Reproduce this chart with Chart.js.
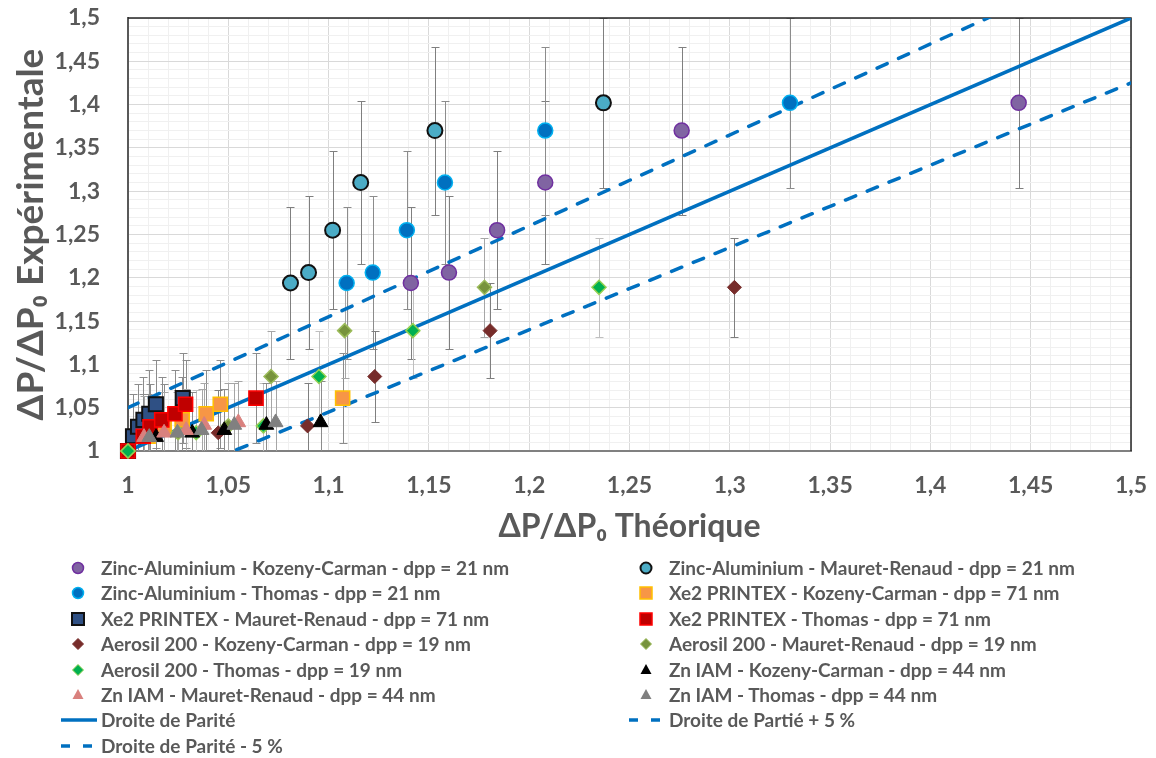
<!DOCTYPE html>
<html>
<head>
<meta charset="utf-8">
<script src="https://cdn.jsdelivr.net/npm/chart.js@4.4.1/dist/chart.umd.min.js"></script>
<style>
  body { margin: 0; background: #fff; }
  #wrap { position: relative; width: 1156px; height: 758px; }
  #legend { position: absolute; left: 0; top: 0; width: 1156px; height: 758px; pointer-events: none; }
  .item { position: absolute; font-family: Lato, sans-serif; font-weight: bold; font-size: 19px; color: #595959; white-space: nowrap; line-height: 20px; }
  .item svg { position: absolute; }
</style>
</head>
<body>
<div id="wrap">
  <canvas id="chart" width="1156" height="758"></canvas>
  <div id="legend"></div>
</div>
<script>
// Zinc-Aluminium - dpp = 21 nm
const znAlExp = [1.194, 1.206, 1.255, 1.31, 1.37, 1.402];
const znAlErr = [0.088, 0.088, 0.091, 0.094, 0.097, 0.098];
const znAlKozeny = [1.141, 1.160, 1.184, 1.208, 1.276, 1.444];
const znAlMauret = [1.081, 1.090, 1.102, 1.116, 1.153, 1.237];
const znAlThomas = [1.109, 1.122, 1.139, 1.158, 1.208, 1.330];

// Xe2 PRINTEX - dpp = 71 nm
const xe2Exp = [1, 1.017, 1.028, 1.036, 1.043, 1.054, 1.061];
const xe2Err = [0, 0.049, 0.049, 0.05, 0.05, 0.051, 0.052];
const xe2Kozeny = [1, 1.010, 1.018, 1.027, 1.039, 1.046, 1.107];
const xe2Mauret = [1, 1.0025, 1.005, 1.0077, 1.0106, 1.0139, 1.0273];
const xe2Thomas = [1, 1.0076, 1.011, 1.0168, 1.0234, 1.0287, 1.0638];

// Aerosil 200 - dpp = 19 nm
const aerExp = [1, 1.021, 1.029, 1.086, 1.139, 1.189];
const aerErr = [0, 0.049, 0.05, 0.052, 0.055, 0.057];
const aerKozeny = [1, 1.045, 1.0895, 1.123, 1.1805, 1.3023];
const aerMauret = [1, 1.025, 1.050, 1.0713, 1.108, 1.1777];
const aerThomas = [1, 1.034, 1.0675, 1.0952, 1.142, 1.2348];

// Zn IAM - dpp = 44 nm
const znExp = [1.016, 1.021, 1.024, 1.030, 1.033];
const znErr = [0.047, 0.047, 0.048, 0.048, 0.048];
const znKozeny = [1.014, 1.032, 1.048, 1.069, 1.096];
const znMauret = [1.008, 1.018, 1.029, 1.038, 1.055];
const znThomas = [1.0106, 1.0246, 1.0367, 1.053, 1.0736];

// parity lines
const parityX = [1, 1.5];
const parityY = [1, 1.5];
const plus5Y = [1.05, 1.575];
const minus5Y = [0.95, 1.425];

const pts = (xs, ys) => xs.map((v, i) => ({ x: v, y: ys[i] }));

// series in legend order (row by row, two columns)
const series = [
  { label: 'Zinc-Aluminium - Kozeny-Carman - dpp = 21 nm', xs: znAlKozeny, ys: znAlExp, err: znAlErr, shape: 'circle', fill: '#8064A2', stroke: '#7030A0', r: 7.5, bw: 1.5, errColor: '#7f7f7f' },
  { label: 'Zinc-Aluminium - Mauret-Renaud - dpp = 21 nm', xs: znAlMauret, ys: znAlExp, err: znAlErr, shape: 'circle', fill: '#4BACC6', stroke: '#111111', r: 7.5, bw: 2, errColor: '#7f7f7f' },
  { label: 'Zinc-Aluminium - Thomas - dpp = 21 nm', xs: znAlThomas, ys: znAlExp, err: znAlErr, shape: 'circle', fill: '#0070C0', stroke: '#00B0F0', r: 7.5, bw: 1.5, errColor: '#8c8c8c' },
  { label: 'Xe2 PRINTEX - Kozeny-Carman - dpp = 71 nm', xs: xe2Kozeny, ys: xe2Exp, err: xe2Err, shape: 'rect', fill: '#F79646', stroke: '#FFC000', r: 10, bw: 1.5, errColor: '#8c8c8c' },
  { label: 'Xe2 PRINTEX - Mauret-Renaud - dpp = 71 nm', xs: xe2Mauret, ys: xe2Exp, err: xe2Err, shape: 'rect', fill: '#2F5084', stroke: '#111111', r: 10, bw: 2, errColor: '#8c8c8c' },
  { label: 'Xe2 PRINTEX - Thomas - dpp = 71 nm', xs: xe2Thomas, ys: xe2Exp, err: xe2Err, shape: 'rect', fill: '#C00000', stroke: '#FF0000', r: 10, bw: 1.5, errColor: '#8c8c8c' },
  { label: 'Aerosil 200 - Kozeny-Carman - dpp = 19 nm', xs: aerKozeny, ys: aerExp, err: aerErr, shape: 'rectRot', fill: '#772C2A', stroke: '#772C2A', r: 7, bw: 1, errColor: '#7f7f7f' },
  { label: 'Aerosil 200 - Mauret-Renaud - dpp = 19 nm', xs: aerMauret, ys: aerExp, err: aerErr, shape: 'rectRot', fill: '#77933C', stroke: '#9BBB59', r: 7, bw: 1.5, errColor: '#a6a6a6' },
  { label: 'Aerosil 200 - Thomas - dpp = 19 nm', xs: aerThomas, ys: aerExp, err: aerErr, shape: 'rectRot', fill: '#00B050', stroke: '#92D050', r: 7, bw: 1.5, errColor: '#bfbfbf' },
  { label: 'Zn IAM - Kozeny-Carman - dpp = 44 nm', xs: znKozeny, ys: znExp, err: znErr, shape: 'triangle', fill: '#000000', stroke: '#000000', r: 8.5, bw: 1, errColor: '#8c8c8c' },
  { label: 'Zn IAM - Mauret-Renaud - dpp = 44 nm', xs: znMauret, ys: znExp, err: znErr, shape: 'triangle', fill: '#D9817E', stroke: '#D9817E', r: 8.5, bw: 1, errColor: '#a6a6a6' },
  { label: 'Zn IAM - Thomas - dpp = 44 nm', xs: znThomas, ys: znExp, err: znErr, shape: 'triangle', fill: '#808080', stroke: '#808080', r: 8.5, bw: 1, errColor: '#a6a6a6' }
];

const lines = [
  { label: 'Droite de Parité', ys: parityY, dash: [] },
  { label: 'Droite de Partié + 5 %', ys: plus5Y, dash: [11, 12.5] },
  { label: 'Droite de Parité - 5 %', ys: minus5Y, dash: [11, 12.5] }
];

const datasets = series.map((s, i) => ({
  type: 'scatter',
  label: s.label,
  data: pts(s.xs, s.ys),
  errors: s.err,
  errorColor: s.errColor,
  pointStyle: s.shape,
  pointRadius: s.r,
  pointHoverRadius: s.r,
  pointBackgroundColor: s.fill,
  pointBorderColor: s.stroke,
  pointBorderWidth: s.bw,
  showLine: false,
  clip: false,
  order: 50 - i
})).concat(lines.map((l) => ({
  type: 'line',
  label: l.label,
  data: pts(parityX, l.ys),
  borderColor: '#0070C0',
  borderWidth: 3.5,
  borderDash: l.dash,
  borderCapStyle: 'round',
  pointRadius: 0,
  fill: false,
  order: 100
})));

// error bars, drawn under the markers
const errorBarPlugin = {
  id: 'errorBars',
  beforeDatasetsDraw(chart) {
    const { ctx, chartArea, scales: { x, y } } = chart;
    ctx.save();
    ctx.beginPath();
    ctx.rect(chartArea.left, chartArea.top, chartArea.width, chartArea.height);
    ctx.clip();
    ctx.lineWidth = 1;
    chart.data.datasets.forEach((ds) => {
      if (!ds.errors) return;
      ctx.strokeStyle = ds.errorColor;
      ds.data.forEach((p, j) => {
        const e = ds.errors[j];
        if (!e) return;
        const px = Math.round(x.getPixelForValue(p.x)) + 0.5;
        const y1 = Math.round(y.getPixelForValue(p.y + e)) + 0.5;
        const y2 = Math.round(y.getPixelForValue(p.y - e)) + 0.5;
        ctx.beginPath();
        ctx.moveTo(px, y1); ctx.lineTo(px, y2);
        ctx.moveTo(px - 4, y1); ctx.lineTo(px + 4, y1);
        ctx.moveTo(px - 4, y2); ctx.lineTo(px + 4, y2);
        ctx.stroke();
      });
    });
    ctx.restore();
  }
};

// top and right frame of the plot area
const framePlugin = {
  id: 'frame',
  beforeDatasetsDraw(chart) {
    const { ctx, chartArea: a } = chart;
    ctx.save();
    ctx.strokeStyle = '#262626';
    ctx.lineWidth = 1.5;
    ctx.beginPath();
    ctx.moveTo(a.left, a.top);
    ctx.lineTo(a.right, a.top);
    ctx.lineTo(a.right, a.bottom);
    ctx.stroke();
    ctx.restore();
  }
};

const tickLabel = (v) => {
  const r = Math.round(v * 100);
  if (r % 5 !== 0) return '';
  return String(r / 100).replace('.', ',');
};
const gridColor = (c) => (c.tick && Math.round(c.tick.value * 100) % 5 === 0) ? '#d9d9d9' : '#f0f0f0';

Chart.defaults.font.family = 'Lato, sans-serif';

new Chart(document.getElementById('chart'), {
  type: 'scatter',
  data: { datasets: datasets },
  options: {
    responsive: false,
    animation: false,
    layout: { padding: { left: 0, right: 25, top: 18, bottom: 198 } },
    plugins: { legend: { display: false }, tooltip: { enabled: false } },
    scales: {
      x: {
        type: 'linear', min: 1, max: 1.5,
        afterFit: (s) => { s.height = 109; s.paddingLeft = 0; s.paddingRight = 0; },
        ticks: { stepSize: 0.01, autoSkip: false, maxRotation: 0, callback: tickLabel, color: '#595959', font: { size: 23, weight: 'bold' }, padding: 21 },
        grid: { color: gridColor, drawTicks: false, lineWidth: 1 },
        border: { color: '#808080', width: 2 },
        title: { display: true, text: 'ΔP/ΔP₀ Théorique', color: '#595959', font: { size: 32, weight: 'bold' }, padding: { top: 0, bottom: 14 } }
      },
      y: {
        type: 'linear', min: 1, max: 1.5,
        afterFit: (s) => { s.width = 128; s.paddingTop = 0; s.paddingBottom = 0; },
        ticks: { stepSize: 0.01, autoSkip: false, callback: tickLabel, color: '#595959', font: { size: 23, weight: 'bold' }, padding: 28 },
        grid: { color: gridColor, drawTicks: false, lineWidth: 1 },
        border: { color: '#595959', width: 2 },
        title: { display: true, text: 'ΔP/ΔP₀ Expérimentale', color: '#595959', font: { size: 37, weight: 'bold' }, padding: { top: 9, bottom: 0 } }
      }
    }
  },
  plugins: [errorBarPlugin, framePlugin]
});

// legend in two columns under the chart
const legend = document.getElementById('legend');
const svgShape = (s) => {
  const c = 10;
  if (s.shape === 'circle') return `<circle cx="${c}" cy="${c}" r="5.5" fill="${s.fill}" stroke="${s.stroke}" stroke-width="${s.bw}"/>`;
  if (s.shape === 'rect') return `<rect x="${c - 6}" y="${c - 6}" width="12" height="12" fill="${s.fill}" stroke="${s.stroke}" stroke-width="${s.bw}"/>`;
  if (s.shape === 'rectRot') return `<polygon points="${c},${c - 5.5} ${c + 5.5},${c} ${c},${c + 5.5} ${c - 5.5},${c}" fill="${s.fill}" stroke="${s.stroke}" stroke-width="1"/>`;
  return `<polygon points="${c},${c - 6} ${c + 5.5},${c + 4} ${c - 5.5},${c + 4}" fill="${s.fill}"/>`;
};
const items = series.map((s) => ({ label: s.label, svg: svgShape(s), line: false }))
  .concat(lines.map((l) => ({ label: l.label, line: true, dash: l.dash })));
items.forEach((it, i) => {
  const col = i % 2, row = Math.floor(i / 2);
  const cy = 568 + row * 25.4;
  const textLeft = col === 0 ? 101 : 669;
  const div = document.createElement('div');
  div.className = 'item';
  div.style.left = textLeft + 'px';
  div.style.top = (cy - 10) + 'px';
  let sym;
  if (it.line) {
    const d = it.dash.length ? 'stroke-dasharray="9 13"' : '';
    sym = `<svg width="40" height="20" style="left:-42px;top:0"><line x1="2" y1="10" x2="38" y2="10" stroke="#0070C0" stroke-width="3.5" ${d}/></svg>`;
  } else {
    sym = `<svg width="20" height="20" style="left:-33px;top:0">${it.svg}</svg>`;
  }
  div.innerHTML = sym + '<span>' + it.label + '</span>';
  legend.appendChild(div);
});
</script>
</body>
</html>
